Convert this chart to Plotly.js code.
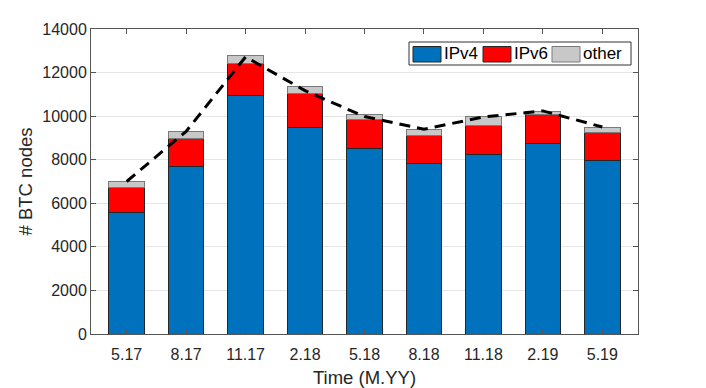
<!DOCTYPE html>
<html>
<head>
<meta charset="utf-8">
<script src="https://cdn.plot.ly/plotly-3.0.1.min.js"></script>
<style>html,body{margin:0;padding:0;background:#fff;}#chart{width:706px;height:388px;}</style>
</head>
<body>
<div id="chart"></div>
<script>
var categories = ["5.17","8.17","11.17","2.18","5.18","8.18","11.18","2.19","5.19"];
var ipv4  = [5600, 7670, 10960, 9490, 8530, 7840, 8250, 8760, 7960];
var ipv6  = [1120, 1320, 1470, 1570, 1330, 1280, 1310, 1310, 1280];
var other = [260, 320, 370, 310, 230, 260, 410, 160, 250];
var totalLine = [7000, 9300, 12720, 11170, 9980, 9400, 9960, 10240, 9500];
var yTicks = [0, 2000, 4000, 6000, 8000, 10000, 12000, 14000];
var seriesNames = ["IPv4", "IPv6", "other"];
var seriesColors = ["#0072BD", "#FF0000", "#C8C8C8"];
var seriesEdges = ["#262626", "#262626", "#7a7a7a"];
var seriesData = [ipv4, ipv6, other];

var fontFam = "Liberation Sans, Arial, Helvetica, sans-serif";
var W = 706, H = 388, M = {l:91, r:68, t:29, b:54};
var pw = W - M.l - M.r, ph = H - M.t - M.b;
function px(x){ return (x - M.l) / pw; }
function py(y){ return (H - M.b - y) / ph; }

var traces = [];
for (var i = 0; i < seriesNames.length; i++) {
  traces.push({type:"bar", name:seriesNames[i], x:categories, y:seriesData[i], showlegend:false,
    marker:{color:seriesColors[i], line:{color:seriesEdges[i], width:1}}});
}
traces.push({type:"scatter", mode:"lines", x:categories, y:totalLine, showlegend:false,
  line:{color:"#000000", width:3, dash:"11px,7px"}});

// legend box drawn to mimic the original legend layout
var shapes = [{type:"rect", xref:"paper", yref:"paper", x0:px(409), x1:px(631), y0:py(65), y1:py(42),
  fillcolor:"#fff", line:{color:"#333", width:1}, layer:"above"}];
var annotations = [];
var swX = [413, 483, 552], swW = 28, txX = [443, 513, 582];
for (var j = 0; j < seriesNames.length; j++) {
  shapes.push({type:"rect", xref:"paper", yref:"paper", x0:px(swX[j]), x1:px(swX[j]+swW),
    y0:py(62), y1:py(46.5), fillcolor:seriesColors[j], line:{color:seriesEdges[j], width:1}, layer:"above"});
  annotations.push({xref:"paper", yref:"paper", x:px(txX[j]), y:py(54), xanchor:"left", yanchor:"middle",
    text:seriesNames[j], showarrow:false, borderpad:0, font:{size:17, color:"#000", family:fontFam}});
}

var layout = {
  width:W, height:H, margin:M,
  barmode:"stack", bargap:0.4,
  paper_bgcolor:"#fff", plot_bgcolor:"#fff",
  font:{family:fontFam, size:16, color:"#262626"},
  showlegend:false,
  shapes:shapes, annotations:annotations,
  xaxis:{type:"category", range:[-0.6, 8.6], showline:true, mirror:"ticks",
         linecolor:"#555", linewidth:1, ticks:"inside", ticklen:5, tickcolor:"#555",
         showgrid:false, zeroline:false, tickfont:{size:16, color:"#262626"}, ticklabelstandoff:6,
         title:{text:"Time (M.YY)", font:{size:18.5, color:"#262626"}, standoff:8}},
  yaxis:{range:[0,14000], tickvals:yTicks, ticktext:yTicks.map(String),
         showline:true, mirror:"ticks", linecolor:"#555", linewidth:1,
         ticks:"inside", ticklen:5, tickcolor:"#555",
         showgrid:true, gridcolor:"#e6e6e6", gridwidth:1, zeroline:false,
         tickfont:{size:16, color:"#262626"},
         title:{text:"# BTC nodes", font:{size:18.5, color:"#262626"}, standoff:4}}
};
Plotly.newPlot("chart", traces, layout, {displayModeBar:false, staticPlot:true});
</script>
</body>
</html>
